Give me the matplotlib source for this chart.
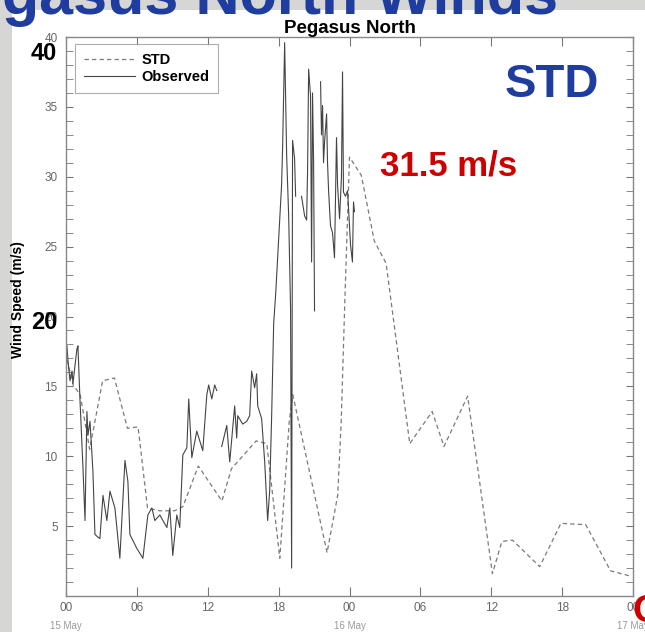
import numpy as np
import matplotlib.pyplot as plt
from matplotlib.patches import Rectangle

plt.rcParams['font.family'] = ['Liberation Sans', 'DejaVu Sans']

# STD model forecast (hours since 00 UTC 15 May)
std_hours = [0.1, 0.6, 1.2, 2.0, 3.1, 4.1, 5.2, 6.1, 6.9, 7.9, 9.2, 9.9, 11.2,
             13.2, 14.0, 16.1, 17.0, 18.1, 18.9, 19.2, 22.1, 23.0, 23.3, 23.6,
             24.0, 25.0, 26.1, 27.1, 29.1, 31.0, 32.0, 34.0, 36.1, 36.9, 37.8,
             40.1, 41.9, 44.0, 46.1, 47.9]
std_speed = [16.9, 15.1, 14.4, 10.5, 15.4, 15.6, 12.0, 12.1, 6.3, 6.1, 6.1, 6.4, 9.3,
             6.8, 9.1, 11.1, 10.9, 2.7, 12.5, 14.4, 3.1, 7.2, 12.5, 21.0,
             31.4, 30.1, 25.4, 23.8, 10.9, 13.2, 10.7, 14.3, 1.6, 3.9, 4.0,
             2.1, 5.2, 5.1, 1.8, 1.4]

# observed (nan = missing data)
obs_hours = [0.08, 0.17, 0.34, 0.51, 0.59, 0.76, 0.93, 1.01, 1.18, 1.44, 1.61, 1.77,
             1.86, 2.03, 2.20, 2.28, 2.45, 2.87, 3.13, 3.46, 3.72, 4.14, 4.56, 4.99,
             5.24, 5.41, 6.00, 6.51, 6.93, 7.27, 7.52, 7.94, 8.54, 8.79, 9.04, 9.38,
             9.63, 9.89, 10.23, 10.39, 10.65, 11.07, 11.58, 11.92, 12.08, 12.34,
             12.59, 12.76, np.nan,
             13.18, 13.61, 13.86, 14.28, 14.45, 14.54, 14.96, 15.30, 15.55, 15.72,
             15.97, 16.14, 16.23, 16.56, 16.82, 17.07, 17.24, 17.41, 17.58, 17.75,
             18.25, 18.34, 18.51, 18.68, 18.85, 19.01, 19.10, 19.18, 19.35, 19.44,
             np.nan,
             19.94, 20.20, 20.37, 20.45, 20.54, 20.70, 20.79, 20.87, 20.96, 21.04,
             np.nan,
             21.55, 21.63, 21.72, 21.80, 21.89, 22.06, 22.14, 22.23, 22.39, 22.56,
             22.73, 22.90, 22.99, 23.16, 23.32, 23.41, 23.49, 23.66, 23.83, 23.92,
             24.09, 24.25, 24.34, 24.42]
obs_speed = [17.9, 16.8, 15.4, 16.1, 15.2, 16.5, 17.7, 17.9, 14.1, 9.1, 5.4, 13.2,
             11.5, 12.5, 10.1, 8.9, 4.4, 4.1, 7.2, 5.4, 7.5, 6.3, 2.7, 9.7,
             8.2, 4.4, 3.4, 2.7, 5.8, 6.3, 5.4, 5.8, 4.9, 6.3, 2.9, 5.8,
             4.9, 10.1, 10.6, 14.1, 9.9, 11.8, 10.4, 14.4, 15.1, 14.1,
             15.1, 14.7, np.nan,
             10.7, 12.2, 9.6, 13.6, 11.3, 12.9, 12.3, 12.5, 12.9, 16.1,
             14.9, 15.9, 13.6, 12.7, 9.6, 5.4, 7.5, 12.9, 19.5, 21.6,
             29.4, 32.2, 39.6, 31.5, 27.2, 20.6, 2.0, 32.6, 31.3, 28.6,
             np.nan,
             28.6, 27.2, 26.9, 30.4, 37.7, 35.8, 23.9, 36.0, 31.1, 20.4,
             np.nan,
             36.8, 33.0, 35.1, 31.0, 32.5, 34.5, 31.0, 29.0, 26.5, 26.0,
             24.2, 32.8, 29.4, 27.0, 30.0, 37.5, 28.9, 28.6, 29.0, 27.7,
             25.1, 23.9, 28.2, 27.5]

xtick_pos = [0, 6, 12, 18, 24, 30, 36, 42, 48]
xtick_lab = ['00', '06', '12', '18', '00', '06', '12', '18', '00']
date_pos = [0, 24, 48]
date_lab = ['15 May', '16 May', '17 May']
ytick_pos = [5, 10, 15, 20, 25, 30, 35, 40]

W, H = 645, 632
fig = plt.figure(figsize=(W / 100, H / 100), dpi=100)
fig.patch.set_facecolor('#d6d6d4')
fig.patches.append(Rectangle((12 / W, 0), 1, 1 - 10 / H, transform=fig.transFigure,
                             facecolor='white', edgecolor='none', zorder=-10))

ax = fig.add_axes([66 / W, 1 - 596 / H, (633 - 66) / W, (596 - 37) / H])
ax.plot(std_hours, std_speed, color='#7a7a7a', lw=0.9, dashes=(3.5, 2.5), label='STD')
ax.plot(obs_hours, obs_speed, color='#444444', lw=0.8, label='Observed')

ax.set_xlim(0, 48)
ax.set_ylim(0, 40)
ax.set_xticks(xtick_pos)
ax.set_xticklabels(xtick_lab)
ax.set_yticks(ytick_pos)
ax.set_yticklabels([str(v) for v in ytick_pos])
ax.set_yticks(np.arange(1, 40), minor=True)
ax.tick_params(axis='both', which='both', direction='in', colors='#777777',
               labelcolor='#666666', labelsize=8.5, top=True, right=True)
ax.tick_params(axis='x', which='major', length=6.5, pad=4)
ax.tick_params(axis='y', which='both', length=5, pad=6)
for s in ax.spines.values():
    s.set_color('#888888')
    s.set_linewidth(1)

for p, lab in zip(date_pos, date_lab):
    ax.text(p, -0.045, lab, transform=ax.get_xaxis_transform(), ha='center', va='top',
            fontsize=7, color='#999999')

leg = ax.legend(loc='upper left', bbox_to_anchor=(0.016, 0.987), borderaxespad=0,
                fancybox=False, edgecolor='#999999', handlelength=3.5,
                prop={'weight': 'bold', 'size': 10.5}, labelspacing=0.2,
                borderpad=0.6, handletextpad=0.45)
leg.get_frame().set_linewidth(0.8)

ax.set_title('Pegasus North', fontsize=13.5, fontweight='bold', pad=2)
fig.text(18 / W, 1 - 300 / H, 'Wind Speed (m/s)', rotation=90, ha='center', va='center',
         fontsize=10, fontweight='bold')

# slide overlays
fig.text(-73 / W, 1 - 14 / H, 'Pegasus North Winds', fontsize=44, fontweight='bold',
         color='#1f3d9e', va='baseline', ha='left')
fig.text(31 / W, 1 - 60 / H, '40', fontsize=17, fontweight='bold', va='baseline')
fig.text(31 / W, 1 - 329 / H, '20', fontsize=17, fontweight='bold', va='baseline')
fig.text(505 / W, 1 - 97 / H, 'STD', fontsize=34, fontweight='bold', color='#1f3d9e',
         va='baseline')
fig.text(380 / W, 1 - 176 / H, '31.5 m/s', fontsize=25, fontweight='bold', color='#cc0000',
         va='baseline')
fig.text(632 / W, 1 - 622 / H, 'C', fontsize=28, fontweight='bold', color='#cc0000',
         va='baseline')

fig.savefig('out.png', dpi=100, facecolor=fig.get_facecolor())
